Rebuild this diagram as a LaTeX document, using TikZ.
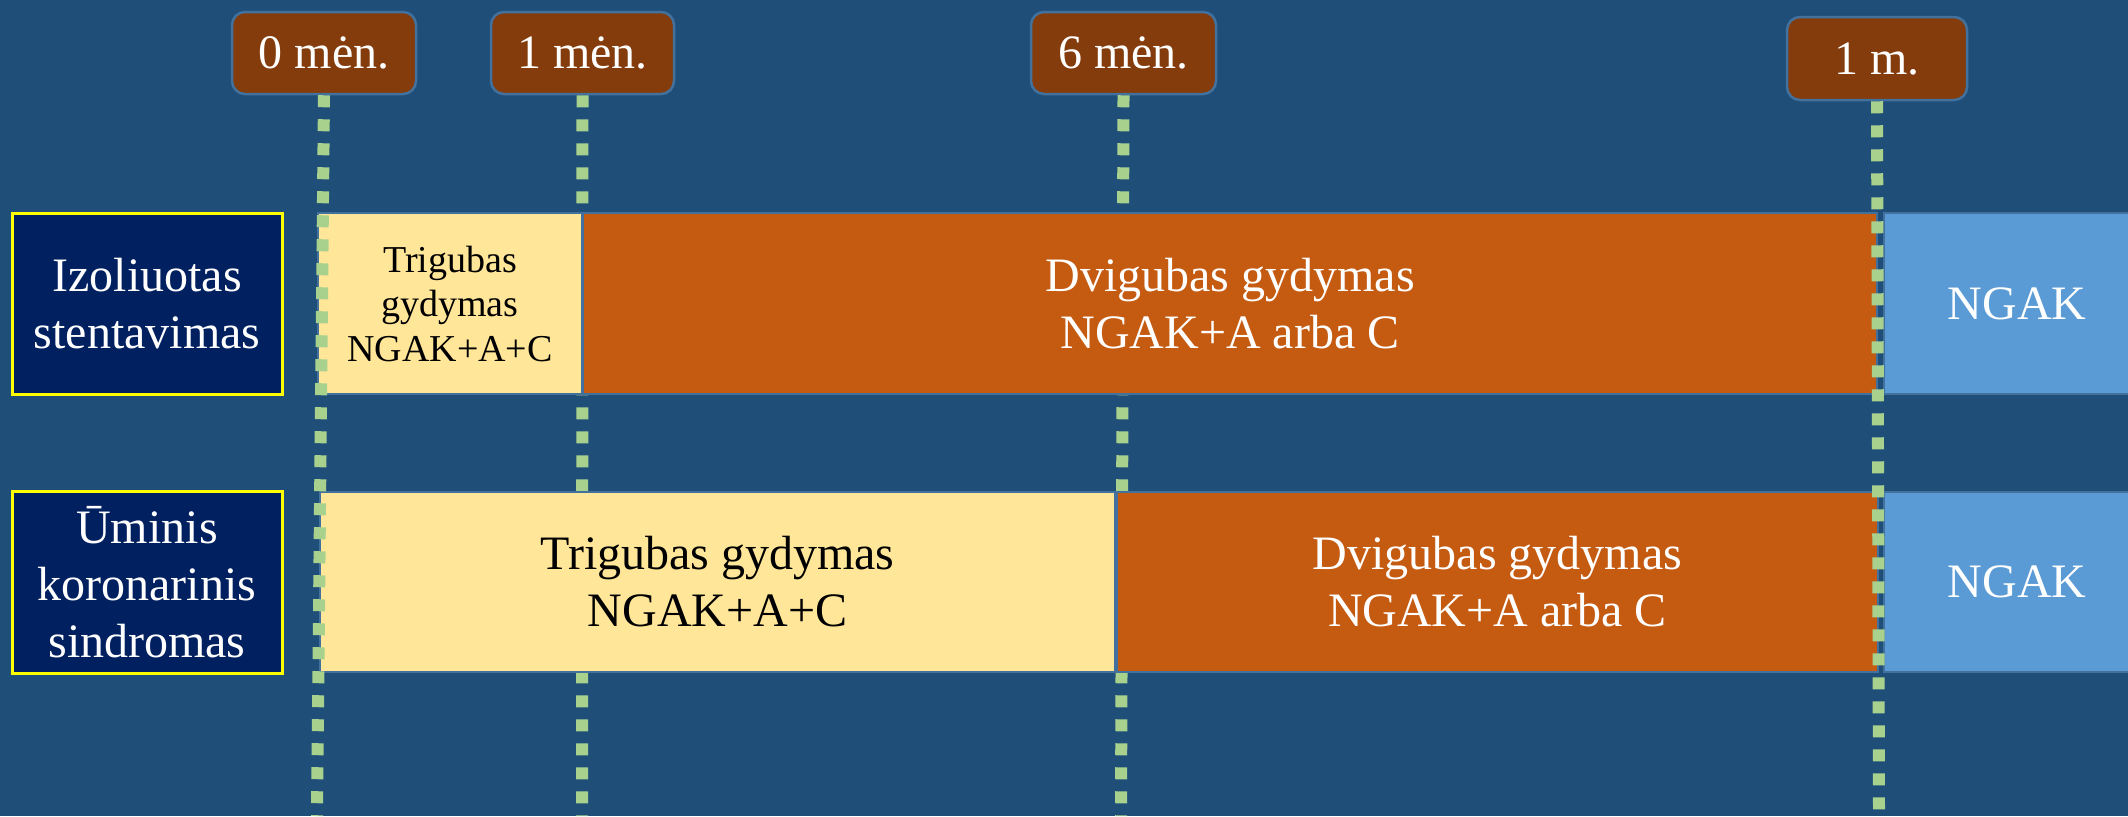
\documentclass[tikz,border=0pt]{standalone}
\usepackage{fontspec}
\setmainfont{Liberation Serif}

\definecolor{bgblue}{HTML}{1F4E79}
\definecolor{edgeblue}{HTML}{41719C}
\definecolor{markbrown}{HTML}{843C0C}
\definecolor{rowfill}{HTML}{002060}
\definecolor{rowedge}{HTML}{FFFF00}
\definecolor{triple}{HTML}{FFE699}
\definecolor{double}{HTML}{C55A11}
\definecolor{single}{HTML}{5B9BD5}
\definecolor{tickgreen}{HTML}{A9D18E}

% one unit = 0.5pt, y grows downwards
\tikzset{
  x=0.5pt, y=-0.5pt,
  bigtext/.style={font=\fontsize{24pt}{28.5pt}\selectfont},
  smalltext/.style={font=\fontsize{19pt}{22.25pt}\selectfont},
  sized/.style 2 args={minimum width=#1, minimum height=#2},
  marker/.style={draw=edgeblue, line width=1.25pt, fill=markbrown, rounded corners=6.5pt,
    inner sep=0pt, text=white, bigtext},
  rowlabel/.style={draw=rowedge, line width=1.5pt, fill=rowfill, inner sep=0pt,
    text=white, align=center, bigtext},
  phase/.style={draw=edgeblue, line width=1pt, inner sep=0pt, align=center, bigtext},
  triplebar/.style={phase, fill=triple, text=black},
  doublebar/.style={phase, fill=double, text=white},
  singlebar/.style={phase, fill=single, text=white},
  tickline/.style={draw=tickgreen, line width=6pt, dash pattern=on 6pt off 6pt},
}

\begin{document}
\begin{tikzpicture}
  % page and background
  \useasboundingbox (0,0) rectangle (2128,816);
  \fill[bgblue] (0,0) rectangle (2128,816);

  % time markers along the top
  \node[marker, sized={92pt}{41pt}] (t0) at (324,53) {0 mėn.};
  \node[marker, sized={91.5pt}{41pt}] (t1) at (582.5,53) {1 mėn.};
  \node[marker, sized={92.5pt}{41pt}] (t6) at (1123.5,53) {6 mėn.};
  \node[marker, sized={90pt}{41.5pt}] (t12) at (1877,58.5) {1 m.};

  % lower ends of the time guides
  \coordinate (c0) at (317,816);
  \coordinate (c1) at (582,816);
  \coordinate (c6) at (1121,816);
  \coordinate (c12) at (1879,816);

  % guides that run behind the bars
  \draw[tickline] (t1.south) -- (c1);
  \draw[tickline] (t6.south) -- (c6);

  % row captions
  \node[rowlabel, sized={135pt}{90.5pt}] (r1) at (147,303.5) {Izoliuotas\\stentavimas};
  \node[rowlabel, sized={135pt}{91pt}] (r2) at (147,582) {Ūminis\\koronarinis\\sindromas};

  % treatment phases, isolated stenting
  \node[triplebar, smalltext, sized={132pt}{90.5pt}] (a1) at (450,303.5) {Trigubas\\gydymas\\NGAK+A+C};
  \node[doublebar, sized={647pt}{90.5pt}] (a2) at (1230,303.5) {Dvigubas gydymas\\NGAK+A arba C};
  \node[singlebar, sized={133pt}{90.5pt}] (a3) at (2017,303.5) {NGAK};

  % treatment phases, acute coronary syndrome
  \node[triplebar, sized={397.5pt}{90pt}] (b1) at (717.5,582) {Trigubas gydymas\\NGAK+A+C};
  \node[doublebar, sized={380.5pt}{90pt}] (b2) at (1497.5,582) {Dvigubas gydymas\\NGAK+A arba C};
  \node[singlebar, sized={133pt}{90pt}] (b3) at (2017,582) {NGAK};

  % guides drawn over the bars
  \draw[tickline] (t0.south) -- (c0);
  \draw[tickline] (t12.south) -- (c12);
\end{tikzpicture}
\end{document}
